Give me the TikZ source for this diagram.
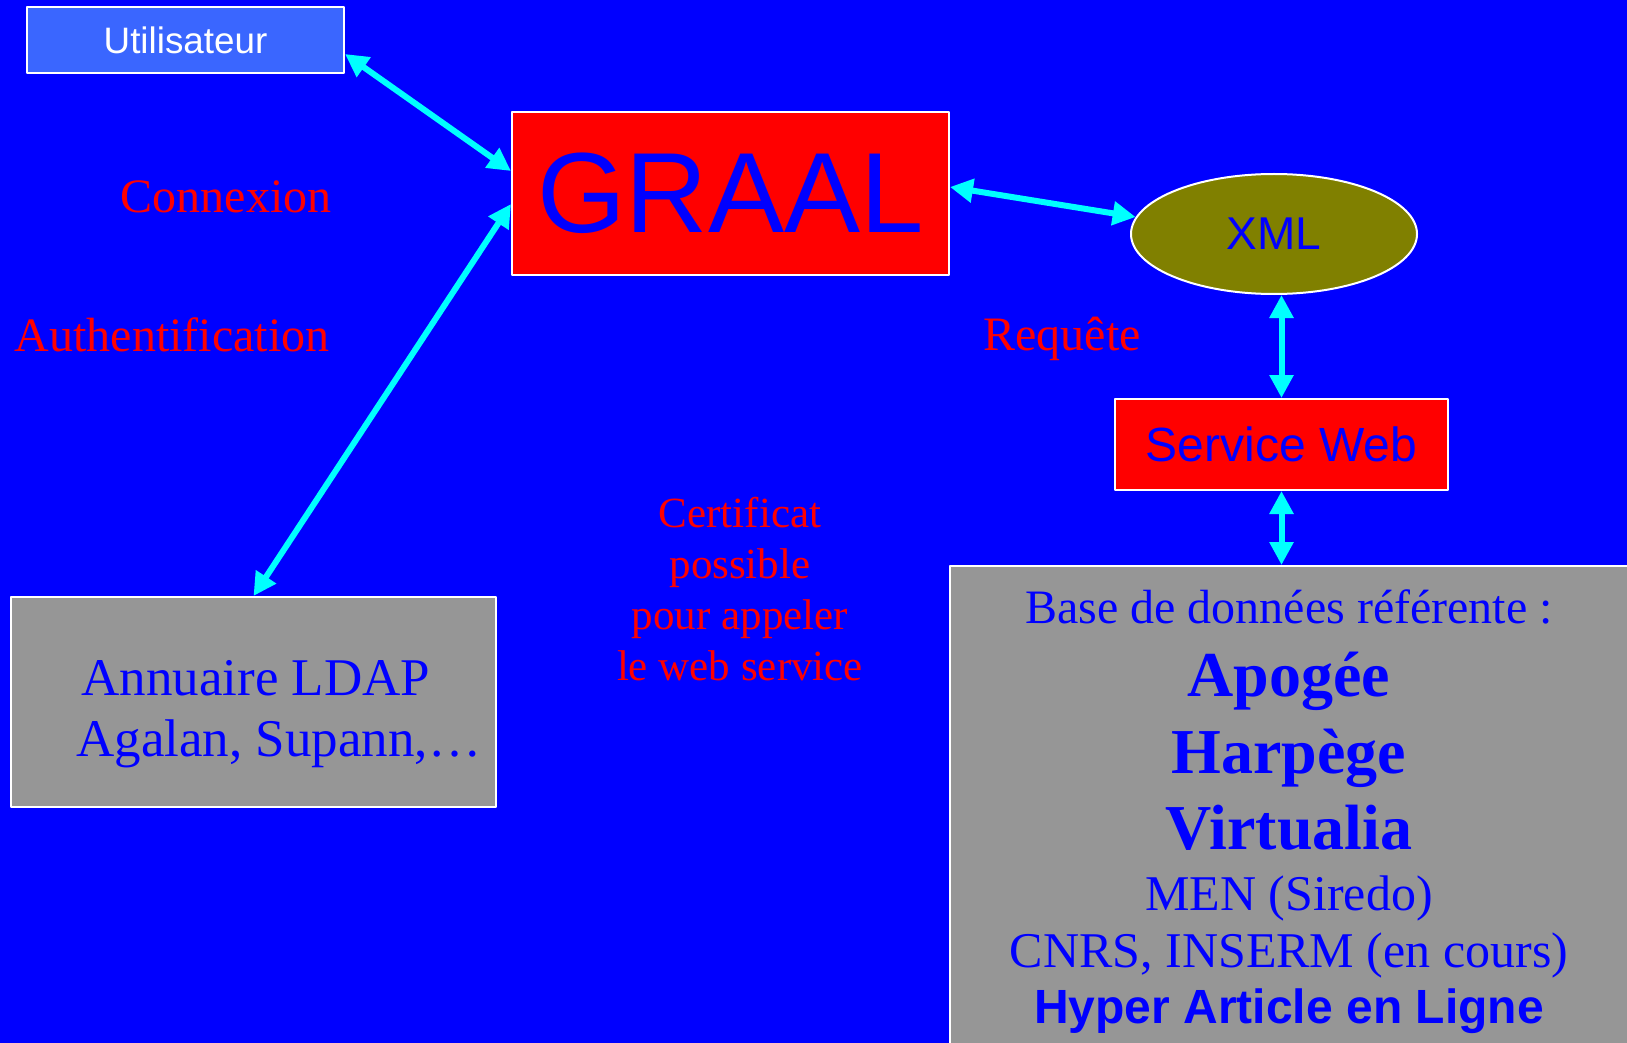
\documentclass[tikz,border=0pt]{standalone}
\usepackage{fontspec}
\setmainfont{Liberation Serif}
\newfontfamily\arialfont{Liberation Sans}
\usepackage{tikz}
\usetikzlibrary{arrows.meta,shapes.geometric}
\definecolor{qqqqff}{rgb}{0.,0.,1.}
\definecolor{ffqqqq}{rgb}{1.,0.,0.}
\definecolor{qqffff}{rgb}{0.,1.,1.}
\definecolor{ooooqq}{rgb}{0.5019607843137255,0.5019607843137255,0.}
\definecolor{wvwvwv}{rgb}{0.5882352941176471,0.5882352941176471,0.5882352941176471}
\definecolor{ttwwff}{rgb}{0.22745098039215686,0.4,1.}
\begin{document}
\begin{tikzpicture}[line cap=round,line join=round,>={Triangle[length=11.5pt,width=11.5pt]},x=0.5pt,y=-0.5pt,
  box/.style={draw=white,line width=1pt,inner sep=0pt},
  conn/.style={<->,color=qqffff,line width=3pt},
  lbl/.style={color=ffqqqq,font=\fontsize{24}{28}\selectfont}]
\useasboundingbox (0,0) rectangle (1627,1043);
\clip (0,0) rectangle (1627,1043);
\fill [color=qqqqff] (0,0) rectangle (1627,1043);
% boxes
\node [box,fill=ttwwff,minimum width=158.5pt,minimum height=33pt,text=white,font=\arialfont\fontsize{18.4}{22}\selectfont] (user) at (185.5,40) {Utilisateur};
\node [box,fill=ffqqqq,minimum width=218.5pt,minimum height=81.5pt,text=qqqqff,font=\arialfont\fontsize{57}{64}\selectfont] (graal) at (730.5,193.5) {GRAAL};
\node [box,ellipse,fill=ooooqq,minimum width=143pt,minimum height=60pt,text=qqqqff,font=\arialfont\fontsize{23}{27}\selectfont] (xml) at (1274,234) {XML};
\node [box,fill=ffqqqq,minimum width=166.5pt,minimum height=45.5pt,text=qqqqff,font=\arialfont\fontsize{24}{28}\selectfont] (sweb) at (1281.5,444.5) {Service Web};
\node [box,fill=wvwvwv,minimum width=242.5pt,minimum height=105pt] (ldap) at (253.5,702) {};
\node [box,fill=wvwvwv,minimum width=375pt,minimum height=267pt] (base) at (1325,833) {};
% texts
\node [anchor=west,align=left,text=qqqqff,inner sep=0pt,font=\fontsize{26.5}{30.5}\selectfont] (ldaptxt) at (76,714) {\hspace*{2.5pt}Annuaire LDAP\\Agalan, Supann,…};
\node [lbl] (cnx) at (226,197) {Connexion};
\node [lbl] (auth) at (172,335) {Authentification};
\node [lbl] (req) at (1062,339) {Requête};
\node [lbl,align=center,font=\fontsize{21.5}{25.5}\selectfont] (cert) at (740,589) {Certificat\\possible\\pour appeler\\le web service};
\begin{scope}[text=qqqqff,anchor=base]
\node [font=\fontsize{24}{28}\selectfont] (bdd) at (1289,623) {Base de données référente :};
\node [font=\bfseries\fontsize{32}{38}\selectfont] (apogee) at (1289,696) {Apogée};
\node [font=\bfseries\fontsize{32}{38}\selectfont] (harpege) at (1289,773) {Harpège};
\node [font=\bfseries\fontsize{32}{38}\selectfont] (virtualia) at (1289,849) {Virtualia};
\node [font=\fontsize{25}{30}\selectfont] (men) at (1289,910) {MEN (Siredo)};
\node [font=\fontsize{25}{30}\selectfont] (cnrs) at (1289,967) {CNRS, INSERM (en cours)};
\node [font=\arialfont\bfseries\fontsize{24}{28}\selectfont] (hal) at (1289,1023) {Hyper Article en Ligne};
\end{scope}
% connectors
\draw [conn] ([yshift=-7pt]user.east) -- ([yshift=11.25pt]graal.west);
\draw [conn] ([yshift=-5.25pt]graal.west) -- (ldap.north);
\draw [conn] ([yshift=3.25pt]graal.east) -- (xml.173);
\draw [conn] (sweb.north |- xml.south) -- (sweb.north);
\draw [conn] (sweb.south) -- (sweb.south |- base.north);
\end{tikzpicture}
\end{document}
